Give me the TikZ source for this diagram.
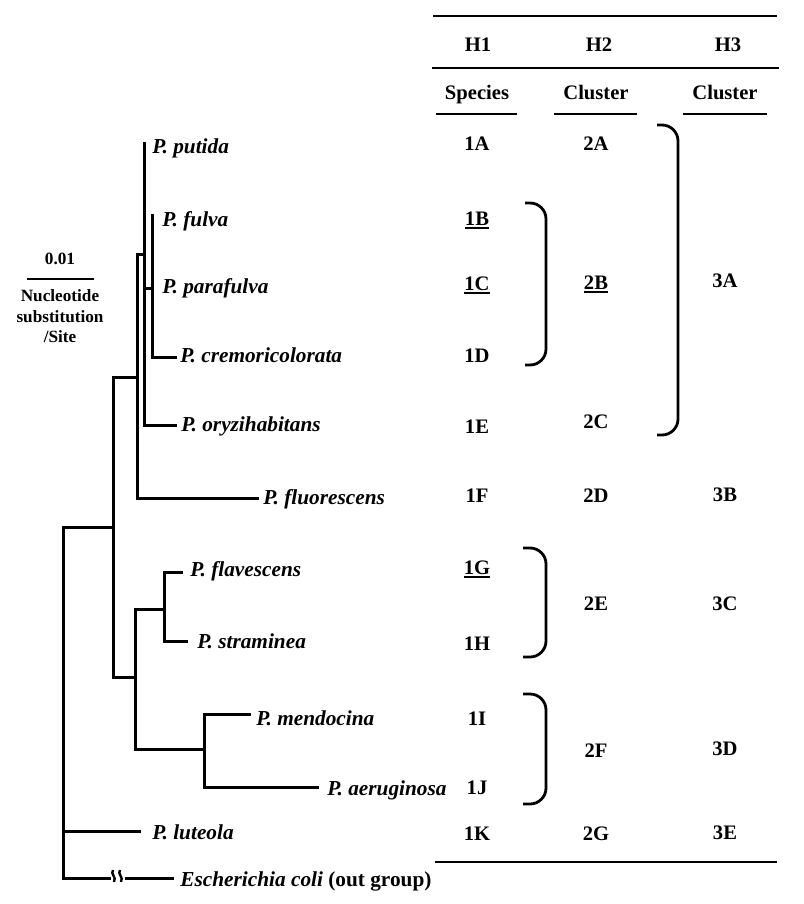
\documentclass[tikz,border=0pt]{standalone}
\usepackage{fontspec}
\setmainfont{Liberation Serif}
\newcommand{\undr}[1]{\setbox0\hbox{#1}\rlap{\rule[-1.8pt]{\wd0}{0.9pt}}\box0}

\begin{document}
\begin{tikzpicture}[x=0.5pt,y=-0.5pt,
  branch/.style={line width=1.5pt,line cap=rect,line join=miter},
  rule/.style={line width=1.4pt},
  brace/.style={line width=1.4pt,rounded corners=8pt},
  taxon/.style={anchor=base west,inner sep=0pt,font=\fontsize{10.65}{12}\selectfont\bfseries\itshape},
  entry/.style={anchor=base,inner sep=0pt,font=\fontsize{10.3}{12}\selectfont\bfseries},
  scaletext/.style={anchor=base,inner sep=0pt,font=\fontsize{8.6}{10}\selectfont\bfseries}]
\useasboundingbox (0,0) rectangle (803,904);

% scale bar
\node[scaletext] (sc) at (60,264) {0.01};
\coordinate (sc1) at (27,279);
\coordinate (sc2) at (94,279);
\draw[rule] (sc1) -- (sc2);
\node[scaletext] (sct1) at (60,301) {Nucleotide};
\node[scaletext] (sct2) at (60,322) {substitution};
\node[scaletext] (sct3) at (60,342) {/Site};

% internal nodes
\coordinate (n0) at (63,527);
\coordinate (nA) at (113,527);
\coordinate (nB) at (137,377);
\coordinate (nD) at (144,254);
\coordinate (nE) at (152,288);
\coordinate (nC) at (135,677);
\coordinate (nF) at (164,609);
\coordinate (nG) at (204,749);
% tips
\coordinate (tPut) at (144,143);
\coordinate (tFul) at (152,215);
\coordinate (tCre) at (175,357);
\coordinate (tOry) at (175,425);
\coordinate (tFlu) at (257,498);
\coordinate (tFla) at (181,572);
\coordinate (tStr) at (186,641);
\coordinate (tMen) at (249,714);
\coordinate (tAer) at (317,787);
\coordinate (tLut) at (139,831);
\coordinate (eA) at (109,878);
\coordinate (eB) at (126,878);
\coordinate (tEco) at (172,878);

\draw[branch] (n0) -- (nA);
\draw[branch] (nA) |- (nB);
\draw[branch] (nA) |- (nC);
\draw[branch] (nB) |- (nD);
\draw[branch] (nB) |- (tFlu);
\draw[branch] (nD) -- (tPut);
\draw[branch] (nD) |- (nE);
\draw[branch] (nD) |- (tOry);
\draw[branch] (nE) -- (tFul);
\draw[branch] (nE) |- (tCre);
\draw[branch] (nC) |- (nF);
\draw[branch] (nC) |- (nG);
\draw[branch] (nF) |- (tFla);
\draw[branch] (nF) |- (tStr);
\draw[branch] (nG) |- (tMen);
\draw[branch] (nG) |- (tAer);
\draw[branch] (n0) |- (tLut);
\draw[branch] (n0) |- (eA);
\draw[branch] (eB) -- (tEco);
% break marks
\draw[line width=1.2pt] (113,870) .. controls (110,874) and (117,877) .. (114,882);
\draw[line width=1.2pt] (120,870) .. controls (117,874) and (124,877) .. (121,882);

% taxa
\node[taxon] (lPut) at (152,154) {P. putida};
\node[taxon] (lFul) at (162,226) {P. fulva};
\node[taxon] (lPar) at (162,293) {P. parafulva};
\node[taxon] (lCre) at (180,362) {P. cremoricolorata};
\node[taxon] (lOry) at (181,431) {P. oryzihabitans};
\node[taxon] (lFlu) at (263,504) {P. fluorescens};
\node[taxon] (lFla) at (190,576) {P. flavescens};
\node[taxon] (lStr) at (197,648) {P. straminea};
\node[taxon] (lMen) at (256,725) {P. mendocina};
\node[taxon] (lAer) at (327,795) {P. aeruginosa};
\node[taxon] (lLut) at (152,839) {P. luteola};
\node[taxon] (lEco) at (180,886) {Escherichia coli \upshape(out group)};

% table
\draw[rule] (433,16) -- (777,16);
\draw[rule] (432,68) -- (779,68);
\draw[rule] (436,114) -- (517,114);
\draw[rule] (554,114) -- (637,114);
\draw[rule] (683,114) -- (767,114);
\draw[rule] (435,862) -- (777,862);
\foreach \nm/\x/\y/\t in {h1/478/52/H1, h2/599/52/H2, h3/728/52/H3, sp/477/100/Species, cl2/596/100/Cluster, cl3/725/100/Cluster}
  \node[entry] (\nm) at (\x,\y) {\t};
\foreach \nm/\y/\t in {A/150/1A, B/225/{\undr{1B}}, C/290/{\undr{1C}}, D/362/1D, E/433/1E, F/502/1F, G/574/{\undr{1G}}, H/650/1H, I/725/1I, J/794/1J, K/840/1K}
  \node[entry] (h1\nm) at (477,\y) {\t};
\foreach \nm/\y/\t in {A/150/2A, B/289/{\undr{2B}}, C/428/2C, D/502/2D, E/610/2E, F/757/2F, G/840/2G}
  \node[entry] (h2\nm) at (596,\y) {\t};
\foreach \nm/\y/\t in {A/287/3A, B/501/3B, C/610/3C, D/755/3D, E/839/3E}
  \node[entry] (h3\nm) at (725,\y) {\t};

% brackets
\draw[brace] (525,203) -- (546,203) -- (546,365) -- (525,365);
\draw[brace] (657,125) -- (678,125) -- (678,435) -- (657,435);
\draw[brace] (523,548) -- (546,548) -- (546,657) -- (523,657);
\draw[brace] (523,694) -- (546,694) -- (546,804) -- (523,804);
\end{tikzpicture}
\end{document}
